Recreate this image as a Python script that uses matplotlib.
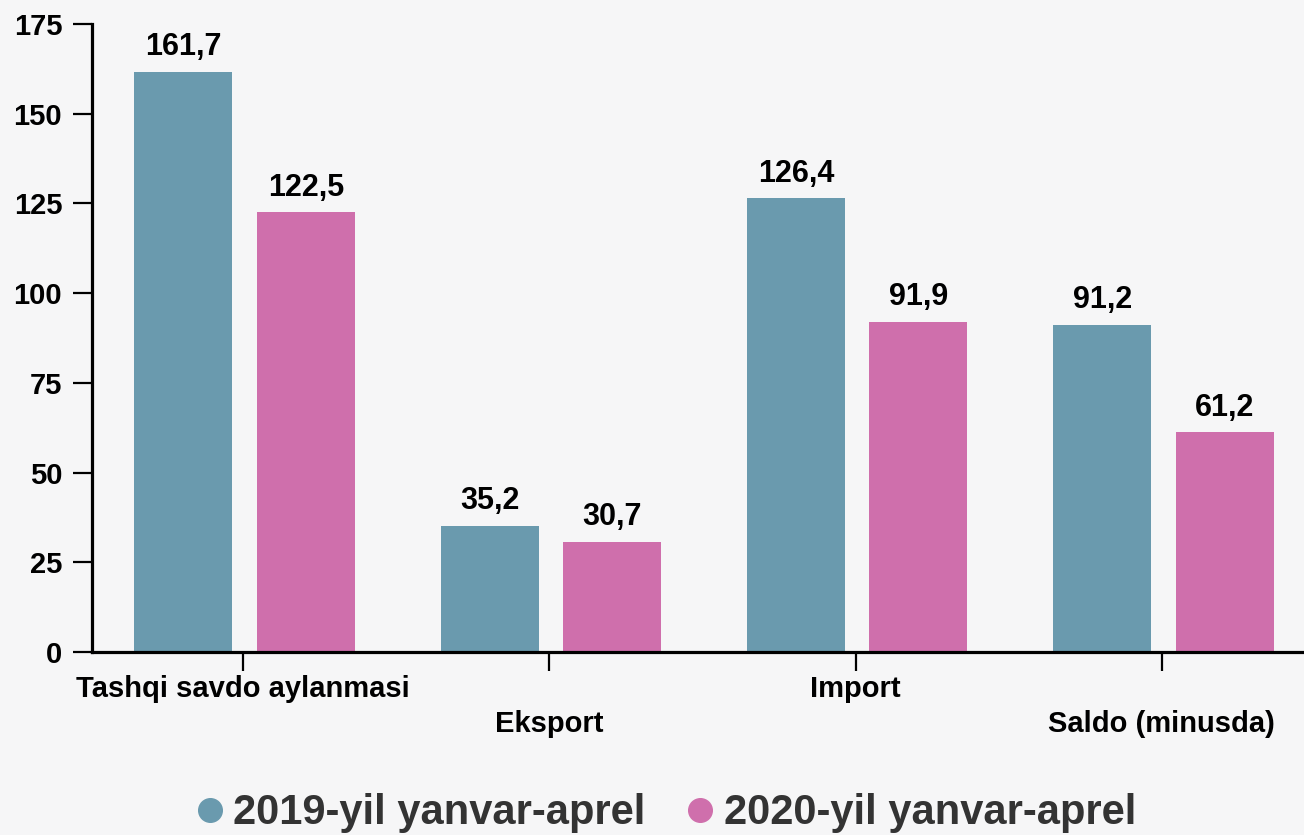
import numpy as np
import matplotlib.pyplot as plt
from matplotlib.lines import Line2D

plt.rcParams['font.family'] = ['Liberation Sans', 'DejaVu Sans']
plt.rcParams['font.weight'] = 'bold'

categories = ['Tashqi savdo aylanmasi', 'Eksport', 'Import', 'Saldo (minusda)']
vals_2019 = [161.7, 35.2, 126.4, 91.2]
vals_2020 = [122.5, 30.7, 91.9, 61.2]
series_names = ['2019-yil yanvar-aprel', '2020-yil yanvar-aprel']
yticks = [0, 25, 50, 75, 100, 125, 150, 175]

blue = '#6a9aae'
pink = '#cf6fac'

W, H = 1304, 835
fig = plt.figure(figsize=(W / 100, H / 100), dpi=100, facecolor='#f6f6f7')
ax = fig.add_axes([92 / W, 183 / H, (1315 - 92) / W, 628 / H])
ax.patch.set_alpha(0)

x = np.arange(len(categories))
b1 = ax.bar(x - 0.195, vals_2019, 0.32, color=blue)
b2 = ax.bar(x + 0.205, vals_2020, 0.32, color=pink)

fmt = lambda vals: [f"{v:.1f}".replace('.', ',') for v in vals]
ax.bar_label(b1, labels=fmt(vals_2019), padding=7, fontsize=22, fontweight='bold')
ax.bar_label(b2, labels=fmt(vals_2020), padding=7, fontsize=22, fontweight='bold')

ax.set_xlim(-0.493, 3.5)
ax.set_ylim(0, 175)
ax.set_yticks(yticks)
ax.set_yticklabels([str(t) for t in yticks], fontsize=21, fontweight='bold')
ax.set_xticks(x)
ax.set_xticklabels([c if i % 2 == 0 else '\n' + c for i, c in enumerate(categories)],
                   fontsize=21, fontweight='bold', linespacing=1.3)

for s in ['top', 'right']:
    ax.spines[s].set_visible(False)
for s in ['left', 'bottom']:
    ax.spines[s].set_linewidth(2.3)
ax.tick_params(axis='y', length=13.5, width=1.6, pad=8)
ax.tick_params(axis='x', length=13.5, width=1.6, pad=3)

handles = [Line2D([], [], marker='o', linestyle='', markersize=17, color=c) for c in (blue, pink)]
fig.legend(handles, series_names, loc='center', bbox_to_anchor=(0.5096, 0.026), ncol=2,
           frameon=False, prop={'size': 30, 'weight': 'bold'}, labelcolor='#333333',
           handletextpad=0.17, columnspacing=0.9, handlelength=0.8)

fig.savefig('out.png', dpi=100, facecolor=fig.get_facecolor())
